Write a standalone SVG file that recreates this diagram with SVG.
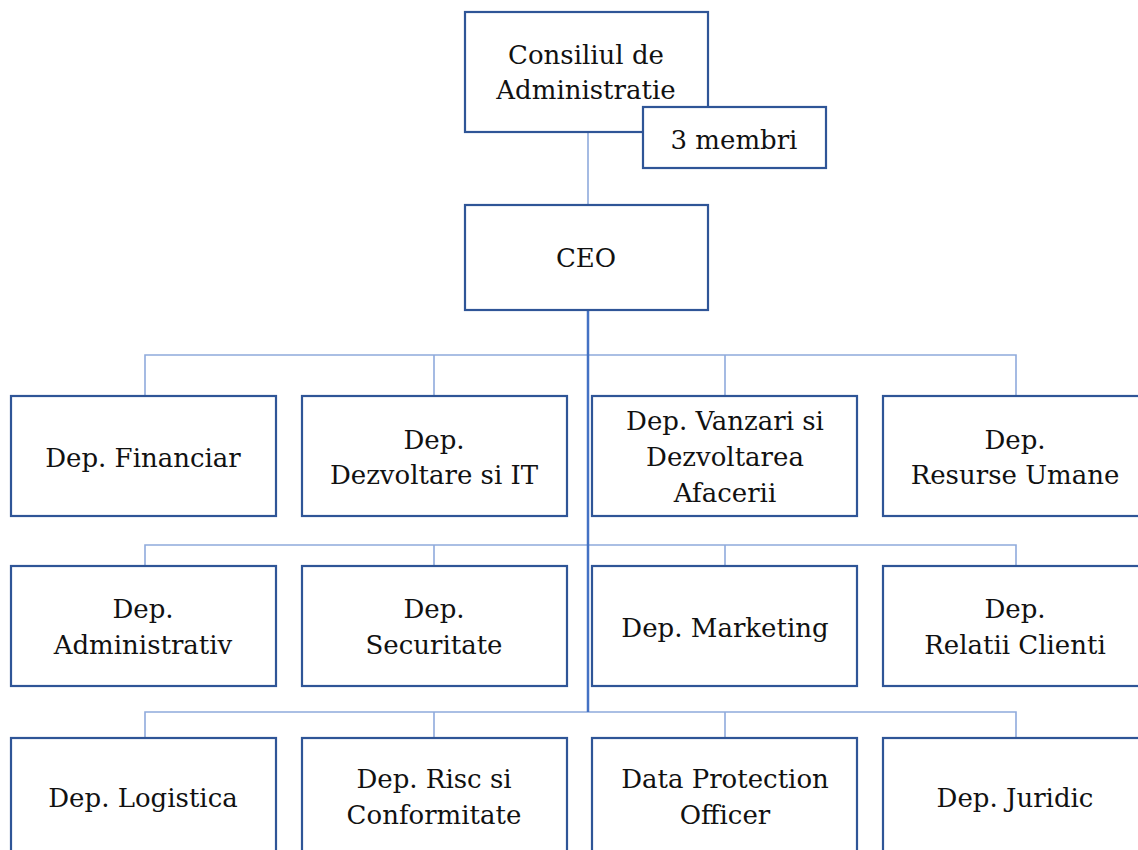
<svg xmlns="http://www.w3.org/2000/svg" width="1138" height="850" viewBox="0 0 1138 850">
<style>
.box{fill:#ffffff;stroke:#2F5597;stroke-width:2.2}
.bus{fill:none;stroke:#8FAADC;stroke-width:1.6}
.trunk{fill:none;stroke:#4472C4;stroke-width:2.5}
text{font-family:"DejaVu Serif","Liberation Serif",serif;font-size:26px;fill:#111111;text-anchor:middle}
</style>
<rect width="1138" height="850" fill="#ffffff"/>
<g id="connectors">
<line class="bus" x1="588" y1="132" x2="588" y2="205"/>
<path class="bus" d="M145 396 V355 H1016 V396 M434 355 V396 M725 355 V396"/>
<path class="bus" d="M145 566 V545 H1016 V566 M434 545 V566 M725 545 V566"/>
<path class="bus" d="M145 737 V712 H1016 V737 M434 712 V737 M725 712 V737"/>
<line class="trunk" x1="588" y1="310" x2="588" y2="712"/>
</g>
<g id="consiliu">
<rect class="box" x="465" y="12" width="243" height="120"/>
<text x="586" y="64">Consiliul de</text>
<text x="586" y="99">Administratie</text>
</g>
<g id="membri">
<rect class="box" x="643" y="107" width="183" height="61"/>
<text x="734" y="149">3 membri</text>
</g>
<g id="ceo">
<rect class="box" x="465" y="205" width="243" height="105"/>
<text x="586" y="267">CEO</text>
</g>
<g id="financiar">
<rect class="box" x="11" y="396" width="265" height="120"/>
<text x="143" y="467">Dep. Financiar</text>
</g>
<g id="dezvoltare-it">
<rect class="box" x="302" y="396" width="265" height="120"/>
<text x="434" y="449">Dep.</text>
<text x="434" y="484">Dezvoltare si IT</text>
</g>
<g id="vanzari">
<rect class="box" x="592" y="396" width="265" height="120"/>
<text x="725" y="430">Dep. Vanzari si</text>
<text x="725" y="466">Dezvoltarea</text>
<text x="725" y="502">Afacerii</text>
</g>
<g id="resurse-umane">
<rect class="box" x="883" y="396" width="265" height="120"/>
<text x="1015" y="449">Dep.</text>
<text x="1015" y="484">Resurse Umane</text>
</g>
<g id="administrativ">
<rect class="box" x="11" y="566" width="265" height="120"/>
<text x="143" y="618">Dep.</text>
<text x="143" y="654">Administrativ</text>
</g>
<g id="securitate">
<rect class="box" x="302" y="566" width="265" height="120"/>
<text x="434" y="618">Dep.</text>
<text x="434" y="654">Securitate</text>
</g>
<g id="marketing">
<rect class="box" x="592" y="566" width="265" height="120"/>
<text x="725" y="637">Dep. Marketing</text>
</g>
<g id="relatii-clienti">
<rect class="box" x="883" y="566" width="265" height="120"/>
<text x="1015" y="618">Dep.</text>
<text x="1015" y="654">Relatii Clienti</text>
</g>
<g id="logistica">
<rect class="box" x="11" y="738" width="265" height="130"/>
<text x="143" y="807">Dep. Logistica</text>
</g>
<g id="risc">
<rect class="box" x="302" y="738" width="265" height="130"/>
<text x="434" y="788">Dep. Risc si</text>
<text x="434" y="824">Conformitate</text>
</g>
<g id="dpo">
<rect class="box" x="592" y="738" width="265" height="130"/>
<text x="725" y="788">Data Protection</text>
<text x="725" y="824">Officer</text>
</g>
<g id="juridic">
<rect class="box" x="883" y="738" width="265" height="130"/>
<text x="1015" y="807">Dep. Juridic</text>
</g>
</svg>
